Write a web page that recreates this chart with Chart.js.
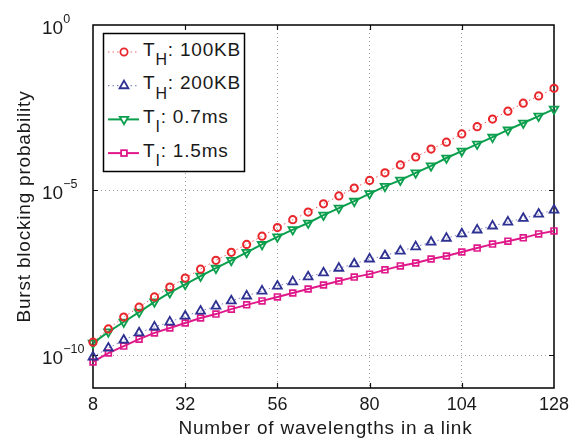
<!DOCTYPE html>
<html>
<head>
<meta charset="utf-8">
<script src="https://cdn.jsdelivr.net/npm/chart.js@4.4.1/dist/chart.umd.min.js"></script>
<style>
  html, body { margin: 0; padding: 0; background: #fff; }
  #wrap { position: relative; width: 581px; height: 444px; }
  #overlay { position: absolute; left: 0; top: 0; pointer-events: none; }
  #overlay text { font-family: "Liberation Sans", Arial, sans-serif; fill: #1a1a1a; }
</style>
</head>
<body>
<div id="wrap">
  <canvas id="chart" width="581" height="444"></canvas>
  <svg id="overlay" width="581" height="444"></svg>
</div>
<script>
// number of wavelengths
const xValues = [8, 12, 16, 20, 24, 28, 32, 36, 40, 44, 48, 52, 56, 60, 64, 68,
  72, 76, 80, 84, 88, 92, 96, 100, 104, 108, 112, 116, 120, 124, 128];

// log10 of burst blocking probability
const th100Exp = [-9.61, -9.21, -8.85, -8.55, -8.24, -7.94, -7.67, -7.40, -7.13, -6.89, -6.65,
  -6.40, -6.14, -5.90, -5.67, -5.42, -5.18, -4.94, -4.71, -4.48, -4.24, -4.00, -3.76, -3.55,
  -3.30, -3.08, -2.85, -2.61, -2.37, -2.15, -1.92];
const th200Exp = [-10.06, -9.79, -9.55, -9.33, -9.15, -9.00, -8.82, -8.67, -8.52, -8.36, -8.21,
  -8.06, -7.91, -7.78, -7.63, -7.51, -7.37, -7.24, -7.09, -6.99, -6.85, -6.72, -6.58, -6.46,
  -6.33, -6.21, -6.09, -5.97, -5.86, -5.73, -5.61];
const ti07Exp = [-9.64, -9.30, -9.00, -8.70, -8.39, -8.11, -7.86, -7.61, -7.37, -7.13, -6.89,
  -6.65, -6.42, -6.20, -6.00, -5.76, -5.55, -5.34, -5.11, -4.89, -4.70, -4.48, -4.27, -4.03,
  -3.82, -3.61, -3.40, -3.18, -2.97, -2.76, -2.55];
const ti15Exp = [-10.21, -9.94, -9.73, -9.52, -9.33, -9.18, -9.03, -8.88, -8.76, -8.61, -8.48,
  -8.36, -8.24, -8.12, -8.00, -7.88, -7.76, -7.64, -7.55, -7.42, -7.30, -7.21, -7.09, -7.00,
  -6.88, -6.76, -6.64, -6.55, -6.45, -6.33, -6.24];

const xTickValues = [8, 32, 56, 80, 104, 128];
const yTickValues = [1e-10, 1e-5, 1];
const yTickExps = ['\u221210', '\u22125', '0'];
const xTitle = 'Number of wavelengths in a link';
const yTitle = 'Burst blocking probability';

const FONT = '"Liberation Sans", Arial, sans-serif';

function toPoints(exps) {
  return xValues.map((x, i) => ({ x: x, y: Math.pow(10, exps[i]) }));
}

const RED = '#e8262b', BLUE = '#2e3192', GREEN = '#0b9f4d', MAGENTA = '#e0198a';

// box, inward ticks on all four sides
const frame = {
  id: 'frame',
  beforeDatasetsDraw(chart) {
    const { ctx, chartArea: a, scales } = chart;
    ctx.save();
    ctx.strokeStyle = '#111';
    ctx.lineWidth = 1.2;
    xTickValues.slice(1, -1).forEach(v => {
      const px = Math.round(scales.x.getPixelForValue(v)) + 0.5;
      ctx.beginPath();
      ctx.moveTo(px, a.bottom); ctx.lineTo(px, a.bottom - 5);
      ctx.moveTo(px, a.top); ctx.lineTo(px, a.top + 5);
      ctx.stroke();
    });
    yTickValues.slice(0, -1).forEach(v => {
      const py = Math.round(scales.y.getPixelForValue(v)) + 0.5;
      ctx.beginPath();
      ctx.moveTo(a.left, py); ctx.lineTo(a.left + 5, py);
      ctx.moveTo(a.right, py); ctx.lineTo(a.right - 5, py);
      ctx.stroke();
    });
    ctx.lineWidth = 1.5;
    ctx.strokeStyle = '#000';
    ctx.strokeRect(a.left, a.top, a.right - a.left, a.bottom - a.top);
    ctx.restore();
  }
};

const chart = new Chart(document.getElementById('chart'), {
  type: 'line',
  data: {
    datasets: [
      { label: 'TH: 100KB', data: toPoints(th100Exp), borderColor: 'rgba(232,38,43,0.75)',
        borderWidth: 1, borderDash: [1.5, 3], pointStyle: 'circle', pointRadius: 3.6,
        pointBorderWidth: 2, pointBorderColor: RED, pointBackgroundColor: 'rgba(0,0,0,0)' },
      { label: 'TH: 200KB', data: toPoints(th200Exp), borderColor: 'rgba(46,49,146,0.6)',
        borderWidth: 1, borderDash: [1.5, 3], pointStyle: 'triangle', pointRadius: 5.1,
        pointBorderWidth: 1.8, pointBorderColor: BLUE, pointBackgroundColor: 'rgba(0,0,0,0)' },
      { label: 'TI: 0.7ms', data: toPoints(ti07Exp), borderColor: GREEN,
        borderWidth: 2, pointStyle: 'triangle', pointRotation: 180, pointRadius: 4.9,
        pointBorderWidth: 1.8, pointBorderColor: GREEN, pointBackgroundColor: 'rgba(0,0,0,0)' },
      { label: 'TI: 1.5ms', data: toPoints(ti15Exp), borderColor: MAGENTA,
        borderWidth: 2, pointStyle: 'rect', pointRadius: 4.1,
        pointBorderWidth: 1.7, pointBorderColor: MAGENTA, pointBackgroundColor: 'rgba(0,0,0,0)' }
    ]
  },
  options: {
    responsive: false,
    animation: false,
    clip: false,
    layout: { padding: { left: 0, right: 27, top: 25, bottom: 0 } },
    plugins: { legend: { display: false }, tooltip: { enabled: false } },
    elements: { line: { tension: 0 } },
    scales: {
      x: {
        type: 'linear', min: 8, max: 128,
        afterBuildTicks: s => { s.ticks = xTickValues.map(v => ({ value: v })); },
        afterFit: s => { s.height = 56; },
        ticks: { font: { family: FONT, size: 18 }, color: '#1a1a1a', padding: 6, maxRotation: 0 },
        grid: {
          drawTicks: false, lineWidth: 1,
          color: c => (c.tick && (c.tick.value === 8 || c.tick.value === 128)) ? 'rgba(0,0,0,0)' : '#a0a0a0'
        },
        border: { display: false, dash: [1, 3] }
      },
      y: {
        type: 'logarithmic', min: 1e-11, max: 1,
        afterBuildTicks: s => { s.ticks = yTickValues.map(v => ({ value: v })); },
        afterFit: s => { s.width = 93; },
        ticks: { display: false },
        grid: {
          drawTicks: false, lineWidth: 1,
          color: c => (c.tick && c.tick.value === 1) ? 'rgba(0,0,0,0)' : '#a0a0a0'
        },
        border: { display: false, dash: [1, 3] }
      }
    }
  },
  plugins: [frame]
});

// overlay: y tick labels with exponents, axis titles, legend with subscripts
const area = chart.chartArea;
const yScale = chart.scales.y;
const svg = document.getElementById('overlay');
let html = '';

yTickValues.forEach((v, i) => {
  const py = yScale.getPixelForValue(v);
  html += '<text x="42" y="' + (py + 8.5) + '" font-size="19">10<tspan font-size="12.5" dy="-11">' +
    yTickExps[i] + '</tspan></text>';
});

html += '<text x="' + ((area.left + area.right) / 2 + 2) + '" y="434" font-size="19" letter-spacing="0.8" text-anchor="middle">' +
  xTitle + '</text>';
const yMid = (area.top + area.bottom) / 2;
html += '<text transform="translate(30,' + yMid + ') rotate(-90)" font-size="19" letter-spacing="0.8" text-anchor="middle">' +
  yTitle + '</text>';

const legendItems = [
  { main: 'T', sub: 'H', rest: ': 100KB', color: RED, dash: '1.5 3', lw: 1, marker: 'circle' },
  { main: 'T', sub: 'H', rest: ': 200KB', color: BLUE, dash: '1.5 3', lw: 1, marker: 'up' },
  { main: 'T', sub: 'I', rest: ': 0.7ms', color: GREEN, dash: '', lw: 2, marker: 'down' },
  { main: 'T', sub: 'I', rest: ': 1.5ms', color: MAGENTA, dash: '', lw: 2, marker: 'square' }
];
html += '<rect x="103.5" y="33.5" width="141" height="138" fill="#fff" stroke="#000" stroke-width="1.5"/>';
legendItems.forEach((it, i) => {
  const cy = 52 + i * 33.7;
  const mx = 124;
  html += '<line x1="108" y1="' + cy + '" x2="139" y2="' + cy + '" stroke="' + it.color +
    '" stroke-width="' + it.lw + '"' + (it.dash ? ' stroke-dasharray="' + it.dash + '" stroke-opacity="0.7"' : '') + '/>';
  let m = '';
  if (it.marker === 'circle') {
    m = '<circle cx="' + mx + '" cy="' + cy + '" r="3.6"';
  } else if (it.marker === 'up') {
    const r = 5.1;
    m = '<polygon points="' + mx + ',' + (cy - r) + ' ' + (mx + r * 0.866) + ',' + (cy + r / 2) + ' ' +
      (mx - r * 0.866) + ',' + (cy + r / 2) + '"';
  } else if (it.marker === 'down') {
    const r = 4.9;
    m = '<polygon points="' + mx + ',' + (cy + r) + ' ' + (mx + r * 0.866) + ',' + (cy - r / 2) + ' ' +
      (mx - r * 0.866) + ',' + (cy - r / 2) + '"';
  } else {
    m = '<rect x="' + (mx - 2.9) + '" y="' + (cy - 2.9) + '" width="5.8" height="5.8"';
  }
  html += m + ' fill="#fff" stroke="' + it.color + '" stroke-width="1.8"/>';
  html += '<text x="143" y="' + (cy + 3.5) + '" font-size="19" letter-spacing="0.8">' + it.main +
    '<tspan font-size="16" dy="9.5">' + it.sub + '</tspan><tspan dy="-9.5" font-size="19">' + it.rest + '</tspan></text>';
});
svg.innerHTML = html;
</script>
</body>
</html>
